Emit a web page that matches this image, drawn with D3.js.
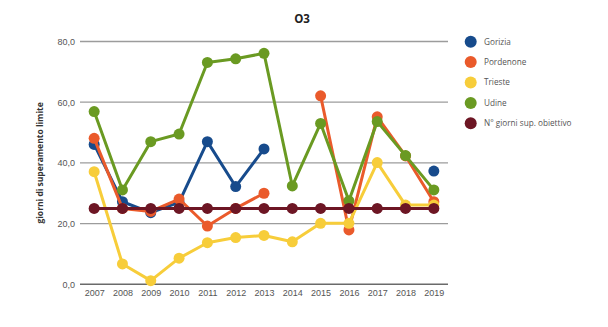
<!DOCTYPE html>
<html>
<head>
<meta charset="utf-8">
<script src="https://cdn.jsdelivr.net/npm/d3@7"></script>
<style>
  html, body { margin: 0; padding: 0; background: #fff; }
  svg { display: block; font-family: "Open Sans", "Liberation Sans", sans-serif; }
</style>
</head>
<body>
<svg id="chart" width="608" height="327"></svg>
<script>
// Anni di rilevazione
const years = ["2007","2008","2009","2010","2011","2012","2013","2014","2015","2016","2017","2018","2019"];

// Giorni di superamento del limite per l'ozono (null = dato mancante)
const gorizia   = [46.1, 27.2, 23.6, 27.0, 47.0, 32.2, 44.6, null, null, null, null, null, 37.3];
const pordenone = [48.1, 25.0, 24.0, 28.1, 19.2, 25.0, 30.0, null, 62.1, 17.9, 55.2, 42.3, 27.2];
const trieste   = [37.1, 6.7, 1.2, 8.6, 13.7, 15.4, 16.1, 14.0, 20.1, 20.1, 40.1, 26.1, 26.1];
const udine     = [56.9, 31.1, 47.0, 49.5, 73.1, 74.3, 76.1, 32.4, 53.0, 27.5, 53.6, 42.4, 31.1];
const obiettivo = [25, 25, 25, 25, 25, 25, 25, 25, 25, 25, 25, 25, 25];

const yTicks = [0, 20, 40, 60, 80];

const seriesNames  = ["Gorizia", "Pordenone", "Trieste", "Udine", "N° giorni sup. obiettivo"];
const seriesValues = [gorizia, pordenone, trieste, udine, obiettivo];
const seriesColors = ["#174b8c", "#ea5a2b", "#f7cd3a", "#6a9a22", "#6d1624"];

const svg = d3.select("#chart");
const plot = { left: 80, right: 448, top: 41.5, bottom: 284.3 };

const x = d3.scalePoint().domain(years).range([plot.left, plot.right]).padding(0.5);
const y = d3.scaleLinear().domain([0, 80]).range([plot.bottom, plot.top]);

// Griglia orizzontale
svg.append("g").selectAll("line")
  .data(yTicks.filter(d => d > 0))
  .join("line")
  .attr("x1", plot.left).attr("x2", plot.right)
  .attr("y1", d => y(d)).attr("y2", d => y(d))
  .attr("stroke", "#9c9c9c").attr("stroke-width", 1.3);

// Asse y
const yAxis = svg.append("g")
  .attr("transform", `translate(${plot.left},0)`)
  .call(d3.axisLeft(y).tickValues(yTicks).tickSize(0).tickPadding(5)
    .tickFormat(d => d3.format(".1f")(d).replace(".", ",")));
yAxis.select(".domain").remove();
yAxis.selectAll("text").attr("fill", "#555").style("font-size", "9px");

// Asse x (linea di base)
const xAxis = svg.append("g")
  .attr("transform", `translate(0,${plot.bottom})`)
  .call(d3.axisBottom(x).tickSize(0).tickPadding(5));
xAxis.select(".domain").attr("d", `M${plot.left},0H${plot.right}`)
  .attr("stroke", "#6a6a6a").attr("stroke-width", 1.5);
xAxis.selectAll("text").attr("fill", "#555").style("font-size", "9px");

// Titolo
svg.append("text")
  .attr("x", 302).attr("y", 23)
  .attr("text-anchor", "middle")
  .style("font-size", "11.5px").style("font-weight", "bold").attr("fill", "#222")
  .text("O3");

// Titolo asse y
svg.append("text")
  .attr("transform", `translate(43,${(plot.top + plot.bottom) / 2}) rotate(-90)`)
  .attr("text-anchor", "middle")
  .style("font-size", "8.5px").style("font-weight", "bold").attr("fill", "#333")
  .text("giorni di superamento limite");

// Linee e punti
const line = d3.line()
  .defined(d => d.v !== null)
  .x(d => x(d.year)).y(d => y(d.v));

seriesValues.forEach((vals, i) => {
  const pts = vals.map((v, j) => ({ year: years[j], v }));
  const g = svg.append("g");
  g.append("path")
    .attr("d", line(pts))
    .attr("fill", "none")
    .attr("stroke", seriesColors[i])
    .attr("stroke-width", 3)
    .attr("stroke-linejoin", "round");
  g.selectAll("circle")
    .data(pts.filter(d => d.v !== null))
    .join("circle")
    .attr("cx", d => x(d.year)).attr("cy", d => y(d.v))
    .attr("r", 5.5)
    .attr("fill", seriesColors[i]);
});

// Legenda
const legend = svg.append("g");
seriesNames.forEach((name, i) => {
  const ly = 41.7 + i * 20.4;
  legend.append("circle")
    .attr("cx", 470.7).attr("cy", ly).attr("r", 6)
    .attr("fill", seriesColors[i]);
  legend.append("text")
    .attr("x", 484).attr("y", ly).attr("dy", "0.35em")
    .style("font-size", "8.2px").attr("fill", "#555")
    .text(name);
});
</script>
</body>
</html>
